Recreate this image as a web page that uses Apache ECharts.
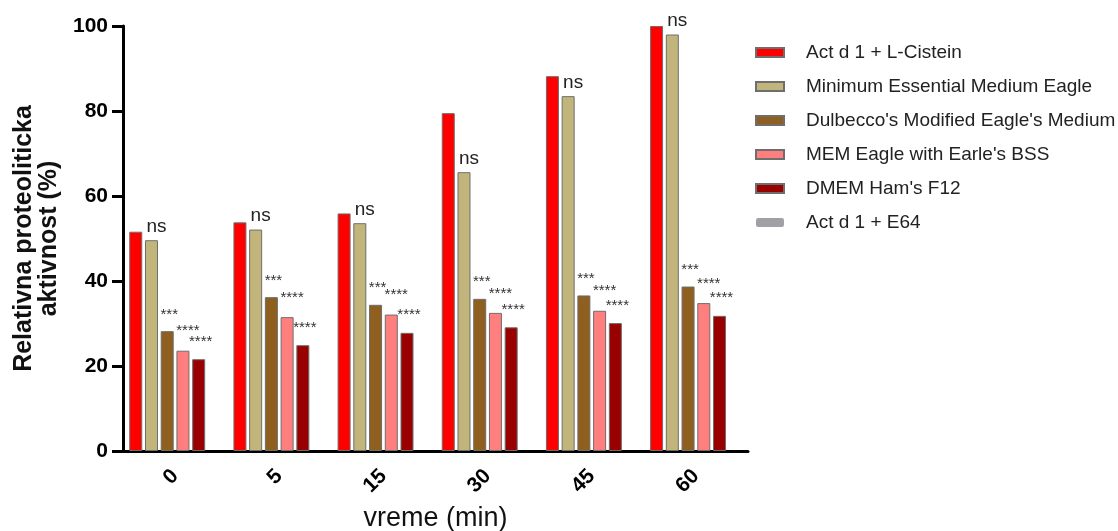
<!DOCTYPE html>
<html>
<head>
<meta charset="utf-8">
<script src="https://cdn.jsdelivr.net/npm/echarts@6/dist/echarts.min.js"></script>
<style>html,body{margin:0;padding:0;background:#fff;}#c{width:1118px;height:531px;}</style>
</head>
<body>
<div id="c"></div>
<script>
const categories = ['0', '5', '15', '30', '45', '60'];
const seriesNames = ['Act d 1 + L-Cistein', 'Minimum Essential Medium Eagle', "Dulbecco's Modified Eagle's Medium", "MEM Eagle with Earle's BSS", "DMEM Ham's F12", 'Act d 1 + E64'];
const actCistein = [51.6, 53.8, 55.9, 79.5, 88.2, 100];
const memEagle = [49.6, 52.1, 53.6, 65.6, 83.5, 98.0];
const dmem = [28.2, 36.2, 34.4, 35.8, 36.6, 38.7];
const memEarle = [23.6, 31.5, 32.1, 32.5, 33.0, 34.8];
const dmemF12 = [21.6, 24.9, 27.8, 29.1, 30.1, 31.8];
const actE64 = [null, null, null, null, null, null];
const sigMemEagle = ['ns', 'ns', 'ns', 'ns', 'ns', 'ns'];
const sigDmem = ['***', '***', '***', '***', '***', '***'];
const sigMemEarle = ['****', '****', '****', '****', '****', '****'];
const sigDmemF12 = ['****', '****', '****', '****', '****', '****'];
const yTicks = [0, 20, 40, 60, 80, 100];

const colors = ['#ff0000', '#c2b57b', '#8f5f1f', '#ff7f7f', '#990000', '#a0a0a6'];
const FONT = 'Liberation Sans, Arial, sans-serif';

function starLabel(arr, offX, offY) {
  return {
    show: true, position: 'top', distance: 0, offset: [offX, offY],
    formatter: p => arr[p.dataIndex], color: '#333', fontSize: 15, fontFamily: FONT
  };
}

const dataSets = [actCistein, memEagle, dmem, memEarle, dmemF12, actE64];
const labels = [
  {show: false},
  {show: true, position: 'top', distance: 4, offset: [5, 0], formatter: p => sigMemEagle[p.dataIndex], color: '#222', fontSize: 19, fontFamily: FONT},
  starLabel(sigDmem, 2, -9),
  starLabel(sigMemEarle, 5, -12),
  starLabel(sigDmemF12, 2, -10),
  {show: false}
];

const series = dataSets.map((d, i) => ({
  name: seriesNames[i], type: 'bar', data: d, barWidth: 13, barGap: '21%',
  itemStyle: i === 5 ? {color: colors[i]} : {color: colors[i], borderColor: '#6e6e6e', borderWidth: 1},
  label: labels[i]
}));

const chart = echarts.init(document.getElementById('c'), null, {renderer: 'canvas'});
chart.setOption({
  animation: false,
  backgroundColor: '#fff',
  grid: {left: 123, right: 370, top: 26, bottom: 80, containLabel: false, outerBoundsMode: 'none'},
  legend: {
    orient: 'vertical', left: 750, top: 38, itemWidth: 28, itemHeight: 9, itemGap: 15,
    textStyle: {fontSize: 19, fontFamily: FONT, color: '#222', lineHeight: 18, padding: [0, 0, 0, 17]},
    data: seriesNames.map((n, i) => ({name: n, icon: i === 5 ? 'roundRect' : 'rect'}))
  },
  xAxis: {
    type: 'category', data: categories,
    name: 'vreme (min)', nameLocation: 'middle', nameGap: 54,
    nameTextStyle: {fontSize: 27, fontFamily: FONT, color: '#111'},
    axisLine: {lineStyle: {color: '#000', width: 3}},
    axisTick: {alignWithLabel: true, length: 9, lineStyle: {color: '#000', width: 3}},
    axisLabel: {rotate: 45, fontSize: 21, fontWeight: 'bold', fontFamily: FONT, color: '#000', margin: 22}
  },
  yAxis: {
    type: 'value', min: 0, max: 100, interval: 20,
    name: 'Relativna proteoliticka\naktivnost (%)', nameLocation: 'middle', nameGap: 60,
    nameTextStyle: {fontSize: 25, fontWeight: 'bold', fontFamily: FONT, color: '#111', lineHeight: 25},
    axisLine: {show: true, lineStyle: {color: '#000', width: 3}},
    axisTick: {show: true, length: 11, lineStyle: {color: '#000', width: 3}},
    axisLabel: {fontSize: 21, fontWeight: 'bold', fontFamily: FONT, color: '#000', margin: 15,
      formatter: v => yTicks.includes(v) ? String(v) : ''},
    splitLine: {show: false}
  },
  series: series
});
</script>
</body>
</html>
